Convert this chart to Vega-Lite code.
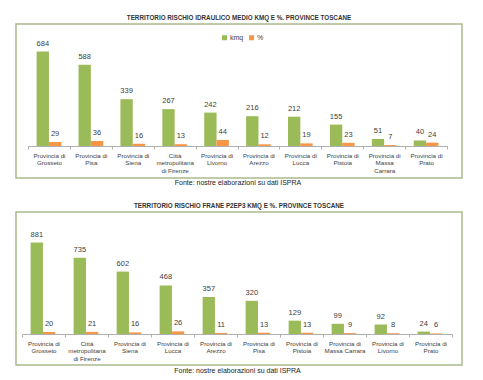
{
  "$schema": "https://vega.github.io/schema/vega-lite/v6.json",
  "background": "white",
  "padding": {"left": 15, "top": 13, "right": 5, "bottom": 0},
  "spacing": 15,
  "config": {
    "font": "Liberation Sans",
    "view": {"stroke": "#aabb8c", "strokeWidth": 1.5},
    "title": {"fontSize": 6.3, "fontWeight": "bold", "color": "#333333", "anchor": "middle", "offset": 3, "font": "Liberation Sans"},
    "axis": {"labelFont": "Liberation Sans", "titleFont": "Liberation Sans"}
  },
  "vconcat": [
    {
      "title": "TERRITORIO RISCHIO IDRAULICO MEDIO KMQ E %. PROVINCE TOSCANE",
      "width": 446,
      "height": 154,
      "data": {"values": [
        {"prov": "Provincia di|Grosseto", "serie": "kmq", "value": 684},
        {"prov": "Provincia di|Grosseto", "serie": "%", "value": 29},
        {"prov": "Provincia di|Pisa", "serie": "kmq", "value": 588},
        {"prov": "Provincia di|Pisa", "serie": "%", "value": 36},
        {"prov": "Provincia di|Siena", "serie": "kmq", "value": 339},
        {"prov": "Provincia di|Siena", "serie": "%", "value": 16},
        {"prov": "Città|metropolitana|di Firenze", "serie": "kmq", "value": 267},
        {"prov": "Città|metropolitana|di Firenze", "serie": "%", "value": 13},
        {"prov": "Provincia di|Livorno", "serie": "kmq", "value": 242},
        {"prov": "Provincia di|Livorno", "serie": "%", "value": 44},
        {"prov": "Provincia di|Arezzo", "serie": "kmq", "value": 216},
        {"prov": "Provincia di|Arezzo", "serie": "%", "value": 12},
        {"prov": "Provincia di|Lucca", "serie": "kmq", "value": 212},
        {"prov": "Provincia di|Lucca", "serie": "%", "value": 19},
        {"prov": "Provincia di|Pistoia", "serie": "kmq", "value": 155},
        {"prov": "Provincia di|Pistoia", "serie": "%", "value": 23},
        {"prov": "Provincia di|Massa|Carrara", "serie": "kmq", "value": 51},
        {"prov": "Provincia di|Massa|Carrara", "serie": "%", "value": 7},
        {"prov": "Provincia di|Prato", "serie": "kmq", "value": 40},
        {"prov": "Provincia di|Prato", "serie": "%", "value": 24}
      ]},
      "encoding": {
        "x": {"field": "prov", "type": "nominal", "sort": null,
          "scale": {"range": [12, 431], "paddingInner": 0, "paddingOuter": 0},
          "axis": {"orient": "bottom", "offset": -32, "tickBand": "extent", "labelExpr": "isValid(datum.value) ? split(datum.value, '|') : ''",
            "labelAngle": 0, "labelFontSize": 6.2, "labelLineHeight": 7.5, "labelColor": "#404040", "labelPadding": 3,
            "domainColor": "#b0b0b0", "tickColor": "#b0b0b0", "tickSize": 3, "grid": false,
            "title": "Fonte: nostre elaborazioni su dati ISPRA", "titleFontSize": 7, "titleFontWeight": "normal", "titleColor": "#222222", "titlePadding": 5}},
        "xOffset": {"field": "serie", "type": "nominal", "sort": ["kmq", "%"], "scale": {"paddingOuter": 0.7, "paddingInner": 0}},
        "y": {"field": "value", "type": "quantitative", "scale": {"domain": [-232, 884], "nice": false, "zero": false}, "axis": null}
      },
      "layer": [
        {
          "mark": {"type": "bar"},
          "encoding": {
            "color": {"field": "serie", "type": "nominal", "scale": {"domain": ["kmq", "%"], "range": ["#9bbb59", "#f79646"]},
              "legend": {"title": null, "orient": "none", "legendX": 205, "legendY": 10, "direction": "horizontal", "symbolType": "square", "symbolSize": 25, "labelFontSize": 7, "labelColor": "#404040", "columnPadding": 4, "labelOffset": 2}}
          }
        },
        {
          "mark": {"type": "text", "baseline": "bottom", "dy": -4, "fontSize": 7.5, "color": "#404040"},
          "encoding": {"text": {"field": "value", "type": "quantitative"}}
        }
      ]
    },
    {
      "title": "TERRITORIO RISCHIO FRANE P2EP3 KMQ E %. PROVINCE TOSCANE",
      "width": 446,
      "height": 153,
      "data": {"values": [
        {"prov": "Provincia di|Grosseto", "serie": "kmq", "value": 881},
        {"prov": "Provincia di|Grosseto", "serie": "%", "value": 20},
        {"prov": "Città|metropolitana|di Firenze", "serie": "kmq", "value": 735},
        {"prov": "Città|metropolitana|di Firenze", "serie": "%", "value": 21},
        {"prov": "Provincia di|Siena", "serie": "kmq", "value": 602},
        {"prov": "Provincia di|Siena", "serie": "%", "value": 16},
        {"prov": "Provincia di|Lucca", "serie": "kmq", "value": 468},
        {"prov": "Provincia di|Lucca", "serie": "%", "value": 26},
        {"prov": "Provincia di|Arezzo", "serie": "kmq", "value": 357},
        {"prov": "Provincia di|Arezzo", "serie": "%", "value": 11},
        {"prov": "Provincia di|Pisa", "serie": "kmq", "value": 320},
        {"prov": "Provincia di|Pisa", "serie": "%", "value": 13},
        {"prov": "Provincia di|Pistoia", "serie": "kmq", "value": 129},
        {"prov": "Provincia di|Pistoia", "serie": "%", "value": 13},
        {"prov": "Provincia di|Massa Carrara", "serie": "kmq", "value": 99},
        {"prov": "Provincia di|Massa Carrara", "serie": "%", "value": 9},
        {"prov": "Provincia di|Livorno", "serie": "kmq", "value": 92},
        {"prov": "Provincia di|Livorno", "serie": "%", "value": 8},
        {"prov": "Provincia di|Prato", "serie": "kmq", "value": 24},
        {"prov": "Provincia di|Prato", "serie": "%", "value": 6}
      ]},
      "encoding": {
        "x": {"field": "prov", "type": "nominal", "sort": null,
          "scale": {"range": [6, 436], "paddingInner": 0, "paddingOuter": 0},
          "axis": {"orient": "bottom", "offset": -31, "tickBand": "extent", "labelExpr": "isValid(datum.value) ? split(datum.value, '|') : ''",
            "labelAngle": 0, "labelFontSize": 6.2, "labelLineHeight": 7.5, "labelColor": "#404040", "labelPadding": 3,
            "domainColor": "#b0b0b0", "tickColor": "#b0b0b0", "tickSize": 3, "grid": false,
            "title": "Fonte: nostre elaborazioni su dati ISPRA", "titleFontSize": 7, "titleFontWeight": "normal", "titleColor": "#222222", "titlePadding": 5}},
        "xOffset": {"field": "serie", "type": "nominal", "sort": ["kmq", "%"], "scale": {"paddingOuter": 0.75, "paddingInner": 0}},
        "y": {"field": "value", "type": "quantitative", "scale": {"domain": [-298, 1176], "nice": false, "zero": false}, "axis": null}
      },
      "layer": [
        {
          "mark": {"type": "bar"},
          "encoding": {
            "color": {"field": "serie", "type": "nominal", "scale": {"domain": ["kmq", "%"], "range": ["#9bbb59", "#f79646"]},
              "legend": {"title": null, "orient": "none", "legendX": 205, "legendY": 10, "direction": "horizontal", "symbolType": "square", "symbolSize": 25, "labelFontSize": 7, "labelColor": "#404040", "columnPadding": 4, "labelOffset": 2}}
          }
        },
        {
          "mark": {"type": "text", "baseline": "bottom", "dy": -4, "fontSize": 7.5, "color": "#404040"},
          "encoding": {"text": {"field": "value", "type": "quantitative"}}
        }
      ]
    }
  ]
}
